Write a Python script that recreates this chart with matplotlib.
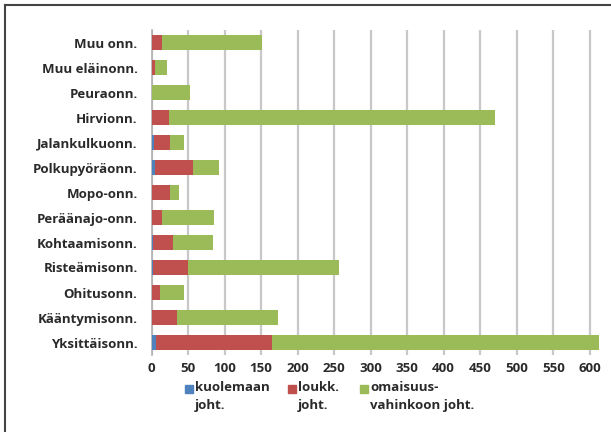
import matplotlib.pyplot as plt
from matplotlib.patches import Rectangle
import numpy as np

plt.rcParams['font.family'] = ['Open Sans', 'DejaVu Sans']

categories = ["Muu onn.", "Muu eläinonn.", "Peuraonn.", "Hirvionn.", "Jalankulkuonn.",
              "Polkupyöräonn.", "Mopo-onn.", "Peräänajo-onn.", "Kohtaamisonn.",
              "Risteämisonn.", "Ohitusonn.", "Kääntymisonn.", "Yksittäisonn."]
kuolemaan = [0, 0, 0, 0, 3, 5, 1, 0, 2, 2, 0, 0, 6]
loukk = [14, 5, 0, 24, 22, 52, 24, 14, 28, 48, 11, 35, 159]
omaisuus = [137, 16, 53, 446, 19, 35, 12, 72, 54, 207, 33, 138, 447]
series_names = ["kuolemaan\njoht.", "loukk.\njoht.", "omaisuus-\nvahinkoon joht."]
colors = ["#4F81BD", "#C0504D", "#9BBB59"]
ticks = list(range(0, 601, 50))

W, H = 611, 432
fs = 9.5
txt = "#2a2a2a"
fig = plt.figure(figsize=(W / 100, H / 100), dpi=100)
ax = fig.add_axes([151.5 / W, 1 - 355 / H, (600 - 151.5) / W, (355 - 30) / H])

y = np.arange(len(categories))
k = np.array(kuolemaan)
l = np.array(loukk)
o = np.array(omaisuus)
h = 0.57
ax.barh(y, k, height=h, color=colors[0], zorder=3)
ax.barh(y, l, left=k, height=h, color=colors[1], zorder=3)
ax.barh(y, o, left=k + l, height=h, color=colors[2], zorder=3)

ax.set_ylim(len(categories) - 0.5, -0.5)
ax.set_xlim(0, 614)
ax.set_xticks(ticks)
ax.set_yticks(y)
ax.set_yticklabels(categories, fontsize=fs, fontweight="bold", color=txt)
ax.tick_params(axis="x", labelsize=fs, length=0, pad=5, labelcolor=txt)
ax.tick_params(axis="y", length=0, pad=10)
for lbl in ax.get_xticklabels():
    lbl.set_fontweight("bold")
ax.grid(axis="x", color="#c8c8c8", linewidth=1.6, zorder=0)
for s in ["top", "right", "bottom"]:
    ax.spines[s].set_visible(False)
ax.spines["left"].set_color("#b0b0b0")
ax.spines["left"].set_linewidth(1.2)

# legend drawn by hand so the swatch sits on the first text line
legend_x = [185, 288, 360]
legend_y = 381
for name, c, lx in zip(series_names, colors, legend_x):
    fig.add_artist(Rectangle((lx / W, 1 - (legend_y + 12) / H), 8 / W, 8 / H,
                             transform=fig.transFigure, color=c))
    fig.text((lx + 10) / W, 1 - legend_y / H, name, fontsize=fs, fontweight="bold",
             color=txt, va="top", ha="left", linespacing=1.45)

# outer chart box (left and top edges)
fig.add_artist(plt.Line2D([5 / W, 5 / W], [0, 1 - 5 / H], color="#444444", linewidth=1.5))
fig.add_artist(plt.Line2D([5 / W, 1], [1 - 5 / H, 1 - 5 / H], color="#444444", linewidth=1.5))

fig.savefig("out.png", dpi=100)
